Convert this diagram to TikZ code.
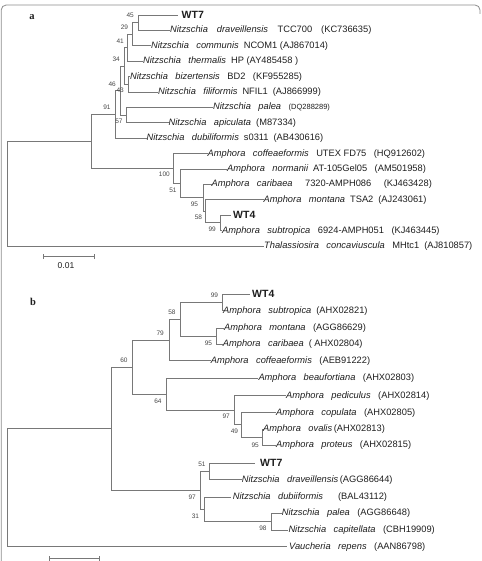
\documentclass[tikz,border=0pt]{standalone}
\usepackage{fontspec}
\setmainfont{Liberation Sans}
\newfontfamily\serifb{Liberation Serif}
\definecolor{lc}{RGB}{120,120,120}
\definecolor{txt}{RGB}{30,30,30}
\definecolor{bsc}{RGB}{70,70,70}
\definecolor{framec}{RGB}{140,140,140}
\newcommand\gp{\hspace{7.5pt}}
\newcommand\gq{\hspace{5pt}}
\begin{document}
\begin{tikzpicture}[x=1pt,y=-1pt,
  br/.style={draw=lc, line width=0.9pt},
  sp/.style={anchor=west, inner sep=0pt, font=\fontsize{9.3}{11}\selectfont, text=txt},
  wt/.style={anchor=west, inner sep=0pt, font=\fontsize{10.5}{12}\selectfont\bfseries, text=txt},
  bs/.style={anchor=east, inner sep=0pt, font=\fontsize{6.5}{7}\selectfont, text=bsc},
  pl/.style={inner sep=0pt, font=\serifb\fontsize{10.5}{12}\selectfont\bfseries, text=txt},
  sl/.style={inner sep=0pt, font=\fontsize{8.5}{10}\selectfont, text=txt}
]
\useasboundingbox (0,0) rectangle (481,561);
\draw[framec, line width=0.8pt, rounded corners=5pt] (1.2,561) -- (1.2,5) -- (480,5) -- (480,14);

% ---------------- panel a ----------------
\node[pl] (la) at (32,17) {a};
% leaves
\coordinate (a1) at (178,15);
\coordinate (a2) at (170,30.4);
\coordinate (a3) at (151,45.8);
\coordinate (a4) at (143,61.2);
\coordinate (a5) at (130,76.6);
\coordinate (a6) at (158,92);
\coordinate (a7) at (213,107.4);
\coordinate (a8) at (168.5,122.8);
\coordinate (a9) at (146.5,138.2);
\coordinate (a10) at (207.5,153.6);
\coordinate (a11) at (227,169);
\coordinate (a12) at (211.5,184.4);
\coordinate (a13) at (263.5,199.8);
\coordinate (a14) at (230.5,215.2);
\coordinate (a15) at (222,230.6);
\coordinate (a16) at (264,246);
% internal nodes
\coordinate (n45) at (138.3,22.7);
\coordinate (n29) at (132.7,34.25);
\coordinate (n41) at (127.7,47.7);
\coordinate (n43) at (128.3,84.3);
\coordinate (n34) at (124.3,66);
\coordinate (n57) at (126,115.1);
\coordinate (n46) at (120.3,90.55);
\coordinate (n91) at (115,114.4);
\coordinate (n99) at (220.7,222.9);
\coordinate (n58) at (205.7,211.35);
\coordinate (n95) at (203,197.9);
\coordinate (n51) at (180,183.4);
\coordinate (n100) at (173,168.5);
\coordinate (nA) at (91,141.45);
\coordinate (rA) at (7,193.7);
% branches
\draw[br] (rA) |- (nA); \draw[br] (rA) |- (a16);
\draw[br] (nA) |- (n91); \draw[br] (nA) |- (n100);
\draw[br] (n91) |- (n46); \draw[br] (n91) |- (a9);
\draw[br] (n46) |- (n34); \draw[br] (n46) |- (n57);
\draw[br] (n57) |- (a7); \draw[br] (n57) |- (a8);
\draw[br] (n34) |- (n41); \draw[br] (n34) |- (n43);
\draw[br] (n43) |- (a5); \draw[br] (n43) |- (a6);
\draw[br] (n41) |- (n29); \draw[br] (n41) |- (a4);
\draw[br] (n29) |- (n45); \draw[br] (n29) |- (a3);
\draw[br] (n45) |- (a1); \draw[br] (n45) |- (a2);
\draw[br] (n100) |- (a10); \draw[br] (n100) |- (n51);
\draw[br] (n51) |- (a11); \draw[br] (n51) |- (n95);
\draw[br] (n95) |- (a12); \draw[br] (n95) |- (n58);
\draw[br] (n58) |- (a13); \draw[br] (n58) |- (n99);
\draw[br] (n99) |- (a14); \draw[br] (n99) |- (a15);
% leaf labels
\node[wt] (a1t) at ([xshift=3.5pt]a1) {WT7};
\node[sp] (a2t) at (a2) {{\itshape Nitzschia\gp\hspace{1.5pt}draveillensis}\gp\hspace{2pt}TCC700\gp\hspace{1.5pt}(KC736635)};
\node[sp] (a3t) at (a3) {{\itshape Nitzschia\gp communis}\gq NCOM1 (AJ867014)};
\node[sp] (a4t) at (a4) {{\itshape Nitzschia\gp thermalis}\gq HP (AY485458 )};
\node[sp] (a5t) at (a5) {{\itshape Nitzschia\gp bizertensis}\gp BD2\gp (KF955285)};
\node[sp] (a6t) at (a6) {{\itshape Nitzschia\gp filiformis}\gq NFIL1\gq (AJ866999)};
\node[sp] (a7t) at (a7) {{\itshape Nitzschia\gp palea}\gp {\fontsize{7.5}{9}\selectfont (DQ288289)}};
\node[sp] (a8t) at (a8) {{\itshape Nitzschia\gp apiculata}\gq (M87334)};
\node[sp] (a9t) at (a9) {{\itshape Nitzschia\gp dubiliformis}\gq s0311\gq (AB430616)};
\node[sp] (a10t) at (a10) {{\itshape Amphora\gp coffeaeformis}\gp UTEX FD75\gp (HQ912602)};
\node[sp] (a11t) at (a11) {{\itshape Amphora\gp normanii}\gq AT-105Gel05\gp (AM501958)};
\node[sp] (a12t) at (a12) {{\itshape Amphora\gp caribaea}\gp\gq 7320-AMPH086\gp\gq (KJ463428)};
\node[sp] (a13t) at (a13) {{\itshape Amphora\gp montana}\gq TSA2\gq (AJ243061)};
\node[wt] (a14t) at ([xshift=2.5pt]a14) {WT4};
\node[sp] (a15t) at (a15) {{\itshape Amphora\gp subtropica}\gp 6924-AMPH051\gp (KJ463445)};
\node[sp] (a16t) at (a16) {{\itshape Thalassiosira\gp concaviuscula}\gp MHtc1\gq (AJ810857)};
% bootstrap a
\node[bs] (b45) at (134,15) {45};
\node[bs] (b29) at (128.3,27.5) {29};
\node[bs] (b41) at (124,41.5) {41};
\node[bs] (b34) at (120,59) {34};
\node[bs] (b46) at (116,84) {46};
\node[bs] (b43) at (124,90) {43};
\node[bs] (b91) at (110.7,107) {91};
\node[bs] (b57) at (122.7,121) {57};
\node[bs] (b100) at (170,174) {100};
\node[bs] (b51) at (176.7,190) {51};
\node[bs] (b95) at (198.3,204) {95};
\node[bs] (b58) at (202.3,217) {58};
\node[bs] (b99) at (216,229) {99};
% scale bar a
\coordinate (sa1) at (43,256.7);
\coordinate (sa2) at (94,256.7);
\draw[br, line width=0.8pt] (sa1) -- (sa2);
\draw[br, line width=0.8pt] ([yshift=-2.5pt]sa1) -- ([yshift=2.5pt]sa1);
\draw[br, line width=0.8pt] ([yshift=-2.5pt]sa2) -- ([yshift=2.5pt]sa2);
\node[sl] (sat) at (66,266) {0.01};

% ---------------- panel b ----------------
\node[pl] (lb) at (33,301.5) {b};
\coordinate (c1) at (250,294);
\coordinate (c2) at (223,310.7);
\coordinate (c3) at (224,328);
\coordinate (c4) at (222.7,344.3);
\coordinate (c5) at (210.7,360.9);
\coordinate (c6) at (258.3,378.1);
\coordinate (c7) at (286,395.8);
\coordinate (c8) at (276,412.6);
\coordinate (c9) at (263,429);
\coordinate (c10) at (276,445.2);
\coordinate (c11) at (255,463);
\coordinate (c12) at (241.7,479.8);
\coordinate (c13) at (230.7,497);
\coordinate (c14) at (281.7,513.3);
\coordinate (c15) at (288.3,530);
\coordinate (c16) at (287,546.7);
\coordinate (m99) at (222.7,302.35);
\coordinate (m95) at (216.7,336.15);
\coordinate (m58) at (180,319.25);
\coordinate (m79) at (169,340.1);
\coordinate (m95b) at (262.7,437.1);
\coordinate (m49) at (241.7,424.85);
\coordinate (m97a) at (234.3,410.3);
\coordinate (m64) at (166,394.2);
\coordinate (m60) at (132.7,367.15);
\coordinate (m51) at (209.3,471.4);
\coordinate (m98) at (271.7,521.65);
\coordinate (m31) at (204,509.3);
\coordinate (m97) at (200,490.35);
\coordinate (mB) at (111.7,428.75);
\coordinate (rB) at (7.3,487.7);
\draw[br] (rB) |- (mB); \draw[br] (rB) |- (c16);
\draw[br] (mB) |- (m60); \draw[br] (mB) |- (m97);
\draw[br] (m60) |- (m79); \draw[br] (m60) |- (m64);
\draw[br] (m79) |- (m58); \draw[br] (m79) |- (c5);
\draw[br] (m58) |- (m99); \draw[br] (m58) |- (m95);
\draw[br] (m99) |- (c1); \draw[br] (m99) |- (c2);
\draw[br] (m95) |- (c3); \draw[br] (m95) |- (c4);
\draw[br] (m64) |- (c6); \draw[br] (m64) |- (m97a);
\draw[br] (m97a) |- (c7); \draw[br] (m97a) |- (m49);
\draw[br] (m49) |- (c8); \draw[br] (m49) |- (m95b);
\draw[br] (m95b) |- (c9); \draw[br] (m95b) |- (c10);
\draw[br] (m97) |- (m51); \draw[br] (m97) |- (m31);
\draw[br] (m51) |- (c11); \draw[br] (m51) |- (c12);
\draw[br] (m31) |- (c13); \draw[br] (m31) |- (m98);
\draw[br] (m98) |- (c14); \draw[br] (m98) |- (c15);
\node[wt] (c1t) at ([xshift=2pt]c1) {WT4};
\node[sp] (c2t) at (c2) {{\itshape Amphora\gp subtropica}\gq (AHX02821)};
\node[sp] (c3t) at (c3) {{\itshape Amphora\gp montana}\gp (AGG86629)};
\node[sp] (c4t) at (c4) {{\itshape Amphora\gp caribaea}\gq ( AHX02804)};
\node[sp] (c5t) at (c5) {{\itshape Amphora\gp coffeaeformis}\gp (AEB91222)};
\node[sp] (c6t) at (c6) {{\itshape Amphora\gp beaufortiana}\gp (AHX02803)};
\node[sp] (c7t) at (c7) {{\itshape Amphora\gp pediculus}\gp (AHX02814)};
\node[sp] (c8t) at (c8) {{\itshape Amphora\gp copulata}\gp (AHX02805)};
\node[sp] (c9t) at (c9) {{\itshape Amphora\gp ovalis}\,(AHX02813)};
\node[sp] (c10t) at (c10) {{\itshape Amphora\gp proteus}\gp (AHX02815)};
\node[wt] (c11t) at ([xshift=5pt]c11) {WT7};
\node[sp] (c12t) at (c12) {{\itshape Nitzschia\gp draveillensis}\,(AGG86644)};
\node[sp] (c13t) at ([xshift=2pt]c13) {{\itshape Nitzschia\gp dubiiformis}\gp\gp (BAL43112)};
\node[sp] (c14t) at (c14) {{\itshape Nitzschia\gp palea}\gp (AGG86648)};
\node[sp] (c15t) at (c15) {{\itshape Nitzschia\gp capitellata}\gp (CBH19909)};
\node[sp] (c16t) at ([xshift=2pt]c16) {{\itshape Vaucheria\gp repens}\gp (AAN86798)};
\node[bs] (d99) at (218.3,295) {99};
\node[bs] (d58) at (175.7,312) {58};
\node[bs] (d95) at (212.3,343) {95};
\node[bs] (d79) at (164,333) {79};
\node[bs] (d60) at (127.7,360.7) {60};
\node[bs] (d64) at (161.7,401) {64};
\node[bs] (d97a) at (230,416.7) {97};
\node[bs] (d49) at (238.3,431.7) {49};
\node[bs] (d95b) at (259,445) {95};
\node[bs] (d51) at (205.7,464.3) {51};
\node[bs] (d97) at (196,497.3) {97};
\node[bs] (d31) at (199.3,516.7) {31};
\node[bs] (d98) at (266.7,528.3) {98};
% scale bar b
\coordinate (sb1) at (49.3,558.5);
\coordinate (sb2) at (99.3,558.5);
\draw[br, line width=0.8pt] (sb1) -- (sb2);
\draw[br, line width=0.8pt] ([yshift=-2.5pt]sb1) -- ([yshift=2.5pt]sb1);
\draw[br, line width=0.8pt] ([yshift=-2.5pt]sb2) -- ([yshift=2.5pt]sb2);
\end{tikzpicture}
\end{document}
